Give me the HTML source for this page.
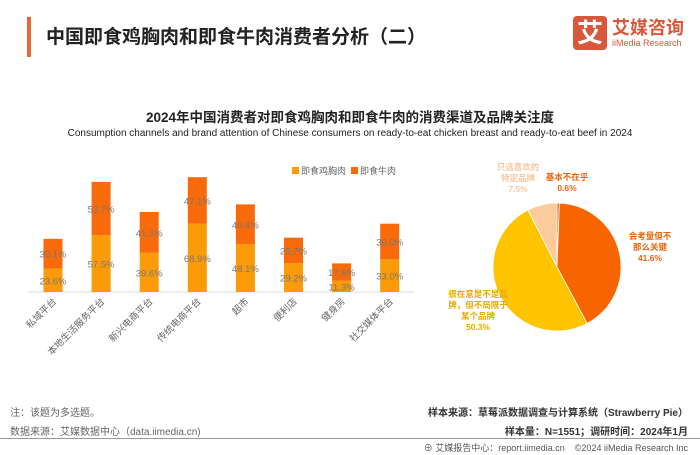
<!DOCTYPE html>
<html><head><meta charset="utf-8"><style>
body{margin:0;width:700px;height:455px;background:#fff;font-family:"Liberation Sans","Noto Sans CJK SC",sans-serif;position:relative;overflow:hidden}
.a{position:absolute;white-space:nowrap}
</style></head><body>
<div class="a" style="left:27px;top:17px;width:4px;height:40px;background:#e8673a"></div>
<div class="a" style="left:46px;top:22px;font-size:19px;font-weight:bold;color:#222">中国即食鸡胸肉和即食牛肉消费者分析（二）</div>
<div class="a" style="left:573px;top:16px;width:34px;height:34px;background:#d9573a;border-radius:4px;color:#fff;font-size:26px;font-weight:bold;text-align:center;line-height:34px">艾</div>
<div class="a" style="left:612px;top:14px;font-size:18px;font-weight:bold;color:#d9573a">艾媒咨询</div>
<div class="a" style="left:612px;top:38px;font-size:9px;color:#d9573a">iiMedia Research</div>
<div class="a" style="left:0;width:700px;text-align:center;top:106px;font-size:13.5px;font-weight:bold;color:#222">2024年中国消费者对即食鸡胸肉和即食牛肉的消费渠道及品牌关注度</div>
<div class="a" style="left:0;width:700px;text-align:center;top:128px;font-size:10px;color:#222">Consumption channels and brand attention of Chinese consumers on ready-to-eat chicken breast and ready-to-eat beef in 2024</div>
<svg class="a" style="left:0;top:0" width="700" height="455" id="svg"></svg>
<div class="a" style="left:10px;top:404px;font-size:10px;color:#666">注：该题为多选题。</div>
<div class="a" style="left:10px;top:423px;font-size:10px;color:#666">数据来源：艾媒数据中心（data.iimedia.cn)</div>
<div class="a" style="right:12px;top:404px;font-size:10px;font-weight:bold;color:#333">样本来源：草莓派数据调查与计算系统（Strawberry Pie）</div>
<div class="a" style="right:12px;top:423px;font-size:10px;font-weight:bold;color:#333">样本量：N=1551；调研时间：2024年1月</div>
<div class="a" style="left:0;top:438px;width:700px;height:1px;background:#999"></div>
<div class="a" style="right:12px;top:441px;font-size:9px;color:#555">⊕ 艾媒报告中心：report.iimedia.cn &nbsp;&nbsp; ©2024 iiMedia Research Inc</div>
<script>
const categories=["私域平台","本地生活服务平台","新兴电商平台","传统电商平台","超市","便利店","健身房","社交媒体平台"];
const chicken=[23.6,57.5,39.6,68.9,48.1,29.2,11.3,33.0];
const beef=[30.1,53.7,41.2,47.1,40.4,25.7,17.6,36.0];
const seriesNames=["即食鸡胸肉","即食牛肉"];
const pieLabels=["基本不在乎","会考量但不那么关键","很在意是不是品牌，但不局限于某个品牌","只选喜欢的特定品牌"];
const pieValues=[0.6,41.6,50.3,7.5];
const NS="http://www.w3.org/2000/svg";
const svg=document.getElementById('svg');
function mk(t,a,p){const e=document.createElementNS(NS,t);for(const k in a)e.setAttribute(k,a[k]);(p||svg).appendChild(e);return e;}
const base=292,k=0.99,x0=53,step=48.1,bw=19;
const xs=i=>x0+i*step, ys=v=>v*k;
const ax=mk('line',{x1:28,x2:414,y1:base,y2:base,stroke:'#ddd'});


categories.forEach((c,i)=>{
 const x=xs(i),h1=ys(chicken[i]),h2=ys(beef[i]);
 const r1=mk('rect',{x:x-bw/2,y:base-h1,width:bw,height:h1,fill:'#fb9b07'});
 
 
 const r2=mk('rect',{x:x-bw/2,y:base-h1-h2,width:bw,height:h2,fill:'#f86a0a'});
 
 
 const t1=mk('text',{x:x,y:base-h1/2+4,'text-anchor':'middle','font-size':9.5,fill:'#777'});
 t1.textContent=chicken[i].toFixed(1)+'%';
 
 
 const t2=mk('text',{x:x,y:base-h1-h2/2+4,'text-anchor':'middle','font-size':9.5,fill:'#777'});
 t2.textContent=beef[i].toFixed(1)+'%';
 
 
 const tl=mk('text',{x:x+4,y:base+10,'text-anchor':'end','font-size':9.5,fill:'#666',transform:`rotate(-45 ${x+4} ${base+10})`});
 tl.textContent=c;
 
 
});
[['#fb9b07',292],['#f86a0a',351]].forEach((s,j)=>{
 const r=mk('rect',{x:s[1],y:167,width:7,height:7,fill:s[0]});
 
 
 const t=mk('text',{x:s[1]+9,y:174,'font-size':9,fill:'#666'});
 t.textContent=seriesNames[j];
 
 
});
const cx=557,cy=267,R=64,cols=['#f15a0a','#f86400','#ffc400','#fbcb9c'];
let tot=pieValues.reduce((a,b)=>a+b,0),ang=0;
pieValues.forEach((v,i)=>{
 const a0=ang,a1=ang+v/tot*2*Math.PI;ang=a1;
 const p=a=>[cx+R*Math.sin(a),cy-R*Math.cos(a)];
 const [x1,y1]=p(a0),[x2,y2]=p(a1);
 const s=mk('path',{d:`M${cx},${cy}L${x1},${y1}A${R},${R} 0 ${a1-a0>Math.PI?1:0} 1 ${x2},${y2}Z`,fill:cols[i],stroke:'#fff','stroke-width':0.8});
 
 
});
const pl=[[567,[ '基本不在乎',pieValues[0].toFixed(1)+'%'],180,'#e8640a','middle'],
 [650,['会考量但不','那么关键',pieValues[1].toFixed(1)+'%'],239,'#e8640a','middle'],
 [478,['很在意是不是品','牌，但不局限于','某个品牌',pieValues[2].toFixed(1)+'%'],297,'#e8a800','middle'],
 [518,['只选喜欢的','特定品牌',pieValues[3].toFixed(1)+'%'],170,'#f5c8a0','middle']];
pl.forEach(l=>{l[1].forEach((s,j)=>{
 const t=mk('text',{x:l[0],y:l[2]+j*11,'text-anchor':l[4],'font-size':8.5,'font-weight':'bold',fill:l[3]});
 t.textContent=s;
 
 
});});
</script>
</body></html>
